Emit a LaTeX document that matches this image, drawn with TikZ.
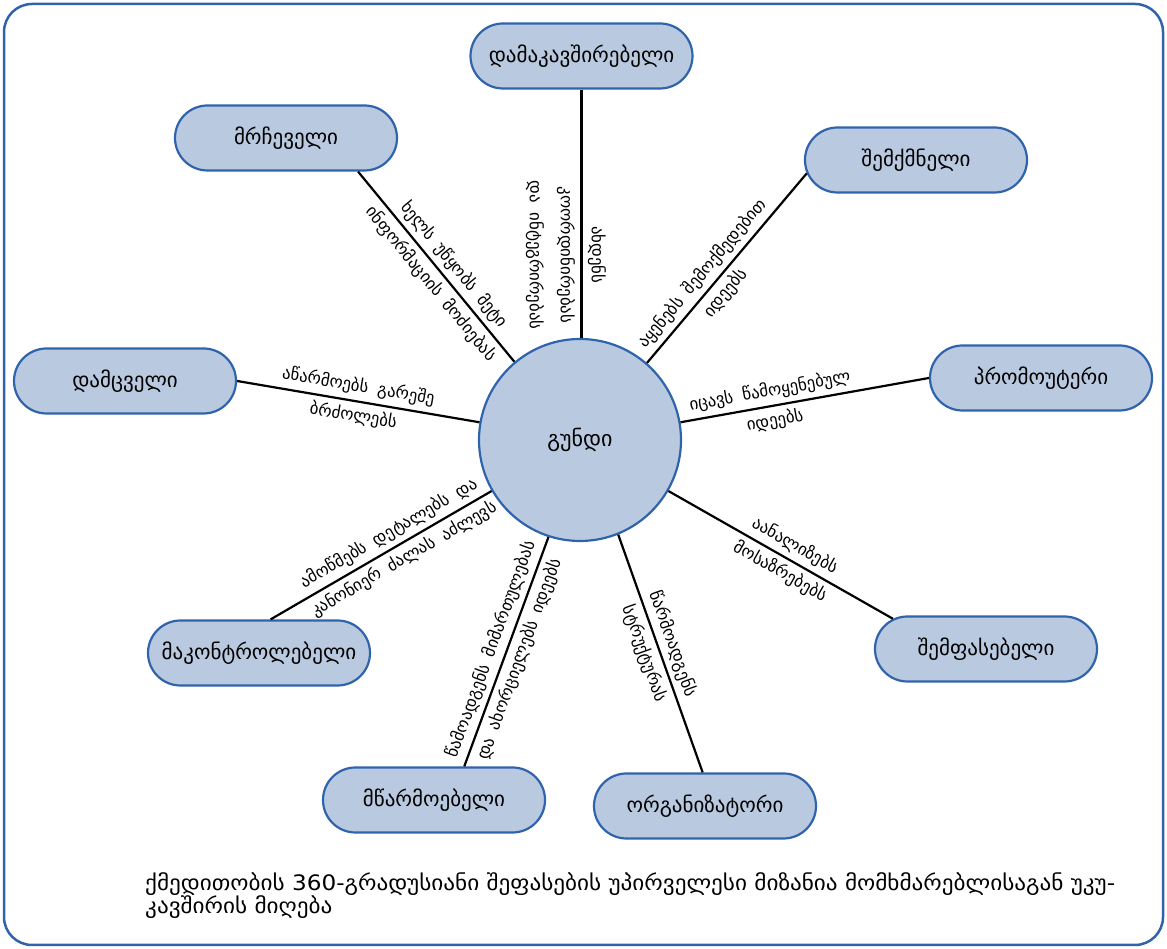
\documentclass[tikz,border=0pt]{standalone}
\usepackage{fontspec}
\usepackage{graphicx}
\setmainfont{DejaVu Sans}
\newfontfamily\notefont[WordSpace=1.8]{DejaVu Sans}
\usetikzlibrary{shapes.misc}
\definecolor{rolefill}{HTML}{B9C9DF}
\definecolor{roleedge}{HTML}{2F64AC}
\newlength\captionwd
\newcommand\captionfont{\fontsize{19}{23}\selectfont}
\begin{document}
% width of the first caption line, for fitting it to the frame
\settowidth\captionwd{\captionfont ქმედითობის 360-გრადუსიანი შეფასების უპირველესი მიზანია მომხმარებლისაგან უკუ-}
\pgfmathsetmacro\capscale{970/\captionwd}
\begin{tikzpicture}[x=1pt,y=1pt,
  role/.style={rounded rectangle, draw=roleedge, fill=rolefill, line width=2.2pt,
    minimum width=222pt, minimum height=65pt, inner sep=0pt,
    font=\fontsize{21}{24}\selectfont},
  hub/.style={circle, draw=roleedge, fill=rolefill, line width=2.2pt,
    minimum size=202pt, inner sep=0pt, font=\fontsize{22}{26}\selectfont},
  link/.style={draw=black, line width=2.2pt},
  note/.style={font=\notefont\fontsize{16.8}{30}\selectfont, align=center, inner sep=0pt}]

\useasboundingbox (0,0) rectangle (1167,949);
\draw[roleedge, line width=2.5pt, rounded corners=28pt] (4,4) rectangle (1163,945);

% centre and the nine roles
\node[hub]  (team) at (580,509) {გუნდი};
\node[role] (linker)  at (581.5,893) {დამაკავშირებელი};
\node[role] (adviser) at (286,811)   {მრჩეველი};
\node[role] (creator) at (916,789)   {შემქმნელი};
\node[role] (promoter) at (1041,571) {პრომოუტერი};
\node[role] (upholder) at (125,568)  {დამცველი};
\node[role] (assessor) at (986,300)  {შემფასებელი};
\node[role] (controller) at (259,296) {მაკონტროლებელი};
\node[role] (producer) at (434,149)  {მწარმოებელი};
\node[role] (organiser) at (705,143) {ორგანიზატორი};

% spokes with their captions
\draw[link] (linker.south) -- (linker.south |- team.north);
\node[note, rotate=-90, font=\notefont\fontsize{16.8}{31}\selectfont] (linker-note) at (566,694)
  {ახდენს\\კოორდინირებას\\და ინტეგრირებას};
\draw[link] (team.130) -- node[note, sloped, pos=0.46] (adviser-note)
  {ხელს უწყობს მეტი\\ინფორმაციის მოძიებას} (adviser.-25);
\draw[link] (team.49.6) -- node[note, sloped, pos=0.42] (creator-note)
  {აყენებს შემოქმედებით\\იდეებს} (creator.187);
\draw[link] (team.10) -- node[note, sloped, pos=0.37] (promoter-note)
  {იცავს წამოყენებულ\\იდეებს} (promoter.west);
\draw[link] (team.170) -- node[note, sloped, pos=0.51] (upholder-note)
  {აწარმოებს გარეშე\\ბრძოლებს} (upholder.east);
\draw[link] (team.-30) -- node[note, sloped, pos=0.53] (assessor-note)
  {აანალიზებს\\მოსაზრებებს} (assessor.162);
\draw[link] (team.210) -- node[note, sloped, pos=0.43] (controller-note)
  {ამოწმებს დეტალებს და\\კანონიერ ძალას აძლევს} (controller.71);
\draw[link] (team.-108) -- node[note, sloped, pos=0.51] (producer-note)
  {წამოადგენს მიმართულებას\\და ახორციელებს იდეებს} (producer.48);
\draw[link] (team.-68.6) -- node[note, sloped, pos=0.48] (organiser-note)
  {წარმოადგენს\\სტრუქტურას} (organiser.94);

% caption below the wheel
\node[anchor=north west, align=left, inner sep=0pt, font=\captionfont] (caption) at (145,77)
  {\scalebox{\capscale}[1.12]{ქმედითობის 360-გრადუსიანი შეფასების უპირველესი მიზანია მომხმარებლისაგან უკუ-}\\
   \scalebox{\capscale}[1.12]{კავშირის მიღება}};
\end{tikzpicture}
\end{document}
